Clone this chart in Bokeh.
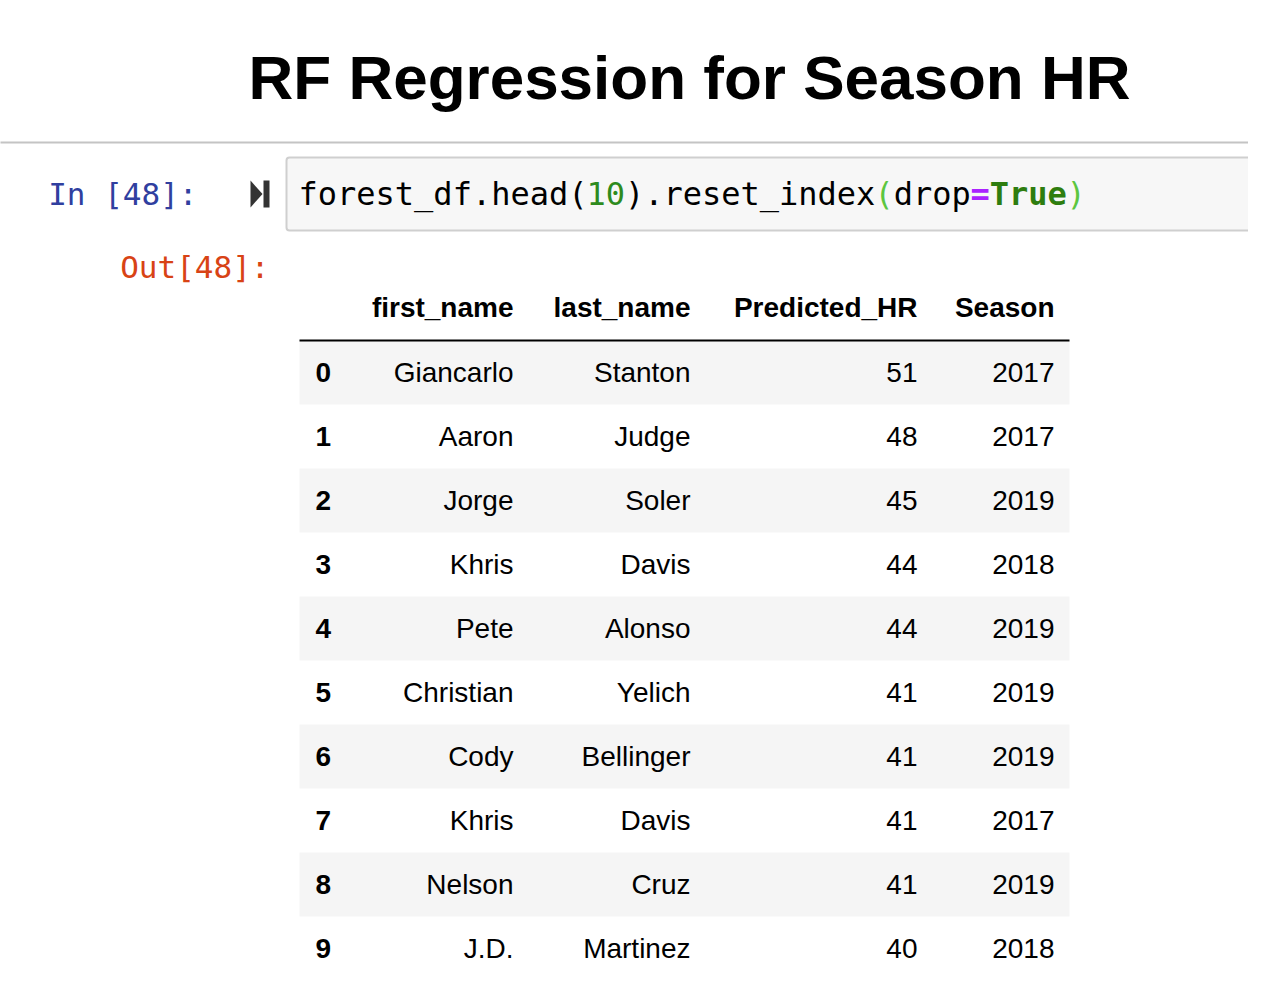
from bokeh.plotting import figure
from bokeh.models import Range1d
from bokeh.core.properties import value
from bokeh.embed import file_html
from bokeh.resources import INLINE

title = "RF Regression for Season HR"
index = [0, 1, 2, 3, 4, 5, 6, 7, 8, 9]
first_name = ["Giancarlo", "Aaron", "Jorge", "Khris", "Pete", "Christian", "Cody", "Khris", "Nelson", "J.D."]
last_name = ["Stanton", "Judge", "Soler", "Davis", "Alonso", "Yelich", "Bellinger", "Davis", "Cruz", "Martinez"]
predicted_hr = [51, 48, 45, 44, 44, 41, 41, 41, 41, 40]
season = [2017, 2017, 2019, 2018, 2019, 2019, 2019, 2017, 2019, 2018]
headers = ["first_name", "last_name", "Predicted_HR", "Season"]
code_parts = [("forest_df.head(", "#000000", "normal"), ("10", "#2e8b1e", "normal"),
              (").reset_index", "#000000", "normal"), ("(", "#5cc640", "normal"),
              ("drop", "#000000", "normal"), ("=", "#AA22FF", "bold"),
              ("True", "#2e7d0f", "bold"), (")", "#5cc640", "normal")]

W, H = 1248, 989
p = figure(width=W, height=H, x_range=Range1d(8, 8 + W), y_range=Range1d(8 + H, 8),
           output_backend="svg", toolbar_location=None, min_border=0)
p.axis.visible = False
p.grid.visible = False
p.outline_line_color = None

SANS = value("Liberation Sans")
MONO = value("DejaVu Sans Mono")

# title
p.text(x=[697], y=[85], text=[title], text_font=SANS, text_font_style="bold",
       text_font_size="62px", text_align="center", text_baseline="middle", text_color="#000000")
p.segment(x0=[0], y0=[150], x1=[1264], y1=[150], line_color="#c4c4c4", line_width=2)

# prompts
p.text(x=[205], y=[201], text=["In [48]:"], text_font=MONO, text_font_size="31px",
       text_align="right", text_baseline="middle", text_color="#303F9F")
p.text(x=[277], y=[274], text=["Out[48]:"], text_font=MONO, text_font_size="31px",
       text_align="right", text_baseline="middle", text_color="#D84315")
# run icon
p.patch(x=[258, 258, 270], y=[188, 215, 201.5], fill_color="#333333", line_color=None)
p.quad(left=[271], right=[277], top=[188], bottom=[215], fill_color="#333333", line_color=None)

# input box
p.quad(left=[294], right=[1275], top=[165], bottom=[238], fill_color="#f7f7f7",
       line_color="#cfcfcf", line_width=2, border_radius=3)
cw = 19.2
pos = 0
for txt, col, st in code_parts:
    p.text(x=[306 + pos * cw], y=[201], text=[txt], text_font=MONO, text_font_size="32px",
           text_font_style=st, text_align="left", text_baseline="middle", text_color=col)
    pos += len(txt)

# table
col_x = [521, 698, 925, 1062]
p.text(x=col_x, y=[315] * 4, text=headers, text_font=SANS, text_font_style="bold",
       text_font_size="28px", text_align="right", text_baseline="middle", text_color="#000000")
row_h = 64
top0 = 348
even = [i for i in index if i % 2 == 0]
p.quad(left=[307] * len(even), right=[1077] * len(even),
       top=[top0 + row_h * i for i in even], bottom=[top0 + row_h * (i + 1) for i in even],
       fill_color="#f5f5f5", line_color=None)
p.segment(x0=[307], y0=[348], x1=[1077], y1=[348], line_color="#000000", line_width=2)
ys = [top0 + row_h * i + row_h / 2 for i in index]
p.text(x=[323] * 10, y=ys, text=[str(i) for i in index], text_font=SANS, text_font_style="bold",
       text_font_size="28px", text_align="left", text_baseline="middle", text_color="#000000")
for cx, vals in zip(col_x, [first_name, last_name, predicted_hr, season]):
    p.text(x=[cx] * 10, y=ys, text=[str(v) for v in vals], text_font=SANS,
           text_font_size="28px", text_align="right", text_baseline="middle", text_color="#000000")

open("out.html", "w").write(file_html(p, INLINE))
